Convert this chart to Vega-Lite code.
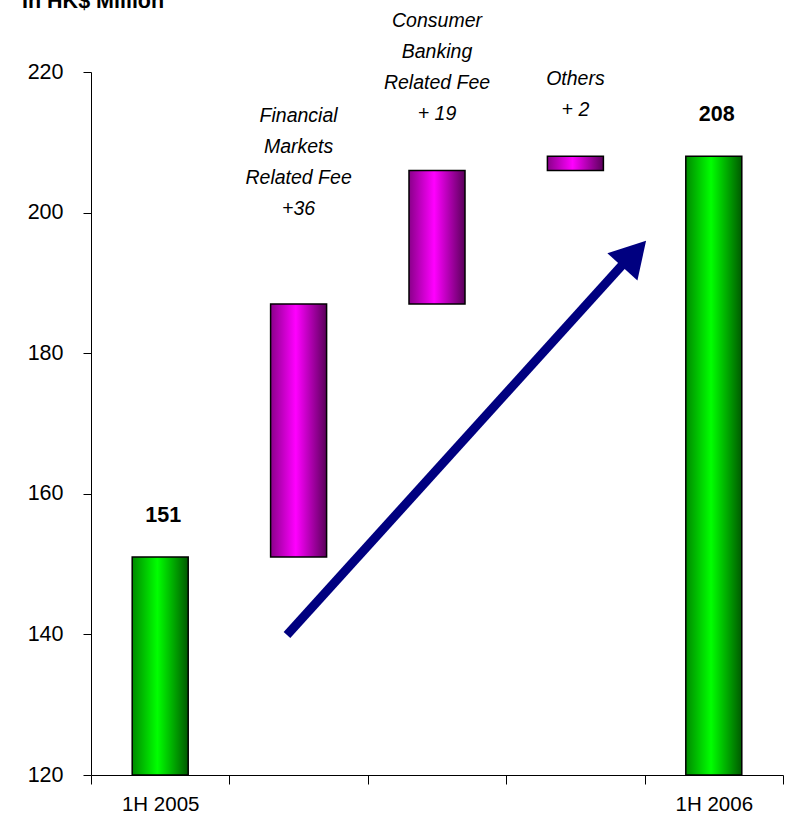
{
  "$schema": "https://vega.github.io/schema/vega-lite/v6.json",
  "autosize": "none",
  "width": 692,
  "height": 703,
  "padding": {"left": 91, "top": 72, "right": 4, "bottom": 41},
  "background": "white",
  "config": {
    "view": {"stroke": null},
    "axis": {"domainColor": "black", "tickColor": "black", "labelColor": "black", "grid": false}
  },
  "datasets": {
    "bars": [
      {"cat": "1H 2005", "slot": 0.5, "start": 120, "end": 151, "kind": "total"},
      {"cat": "Financial Markets Related Fee", "slot": 1.5, "start": 151, "end": 187, "kind": "change"},
      {"cat": "Consumer Banking Related Fee", "slot": 2.5, "start": 187, "end": 206, "kind": "change"},
      {"cat": "Others", "slot": 3.5, "start": 206, "end": 208, "kind": "change"},
      {"cat": "1H 2006", "slot": 4.5, "start": 120, "end": 208, "kind": "total"}
    ],
    "values": [
      {"slot": 0.5, "label": "151", "ly": 156.0},
      {"slot": 4.5, "label": "208", "ly": 213.1}
    ],
    "notes": [
      {"slot": 1.5, "label": "Financial\nMarkets\nRelated Fee\n+36", "ly": 212.9},
      {"slot": 2.5, "label": "Consumer\nBanking\nRelated Fee\n+ 19", "ly": 226.4},
      {"slot": 3.5, "label": "Others\n+ 2", "ly": 218.15}
    ],
    "title": [
      {"slot": -0.4986, "label": "In HK$ Million", "ly": 229.1}
    ],
    "arrow": [
      {"x0": 1.416, "y0": 139.9, "x1": 3.858, "y1": 192.97, "hx": 3.925, "hy": 194.13}
    ]
  },
  "encoding": {
    "x": {
      "type": "quantitative",
      "scale": {"domain": [0, 5], "nice": false, "zero": false, "padding": 0},
      "axis": {
        "title": null,
        "values": [0, 0.5, 1, 1.5, 2, 2.5, 3, 3.5, 4, 4.5, 5],
        "tickSize": 9,
        "tickOpacity": {"condition": {"test": "datum.value % 1 === 0", "value": 1}, "value": 0},
        "labelPadding": 10,
        "labelFont": "Liberation Sans",
        "labelFontSize": 20.5,
        "labelOverlap": false,
        "labelFlush": false,
        "labelBound": false,
        "labelExpr": "datum.value == 0.5 ? '1H 2005' : datum.value == 4.5 ? '1H 2006' : ''"
      }
    },
    "y": {
      "type": "quantitative",
      "scale": {"domain": [120, 220], "nice": false, "zero": false},
      "axis": {
        "title": null,
        "values": [120, 140, 160, 180, 200, 220],
        "tickSize": 8,
        "labelPadding": 20,
        "labelFont": "Liberation Sans",
        "labelFontSize": 21.5
      }
    }
  },
  "layer": [
    {
      "data": {"name": "bars"},
      "transform": [{"filter": "datum.kind == 'total'"}],
      "mark": {
        "type": "bar",
        "width": 56,
        "stroke": "black",
        "strokeWidth": 1.5,
        "fill": {"gradient": "linear", "x1": 0, "y1": 0, "x2": 1, "y2": 0,
          "stops": [
            {"offset": 0, "color": "#008a00"},
            {"offset": 0.45, "color": "#00ff00"},
            {"offset": 1, "color": "#005a00"}
          ]}
      },
      "encoding": {
        "x": {"field": "slot"},
        "y": {"field": "start"},
        "y2": {"field": "end"}
      }
    },
    {
      "data": {"name": "bars"},
      "transform": [{"filter": "datum.kind == 'change'"}],
      "mark": {
        "type": "bar",
        "width": 56,
        "stroke": "black",
        "strokeWidth": 1.5,
        "fill": {"gradient": "linear", "x1": 0, "y1": 0, "x2": 1, "y2": 0,
          "stops": [
            {"offset": 0, "color": "#8a008a"},
            {"offset": 0.45, "color": "#ff00ff"},
            {"offset": 1, "color": "#5a005a"}
          ]}
      },
      "encoding": {
        "x": {"field": "slot"},
        "y": {"field": "start"},
        "y2": {"field": "end"}
      }
    },
    {
      "data": {"name": "values"},
      "mark": {"type": "text", "font": "Liberation Sans", "fontSize": 21.5, "fontWeight": "bold", "baseline": "alphabetic", "align": "center", "dx": 3, "color": "black"},
      "encoding": {
        "x": {"field": "slot"},
        "y": {"field": "ly"},
        "text": {"field": "label"}
      }
    },
    {
      "data": {"name": "notes"},
      "mark": {"type": "text", "font": "Liberation Sans", "fontSize": 19.5, "fontStyle": "italic", "baseline": "alphabetic", "align": "center", "lineBreak": "\n", "lineHeight": 31, "color": "black"},
      "encoding": {
        "x": {"field": "slot"},
        "y": {"field": "ly"},
        "text": {"field": "label"}
      }
    },
    {
      "data": {"name": "title"},
      "mark": {"type": "text", "font": "Liberation Sans", "fontSize": 21.5, "fontWeight": "bold", "baseline": "alphabetic", "align": "left", "color": "black"},
      "encoding": {
        "x": {"field": "slot"},
        "y": {"field": "ly"},
        "text": {"field": "label"}
      }
    },
    {
      "data": {"name": "arrow"},
      "mark": {"type": "rule", "color": "#000080", "strokeWidth": 9, "strokeCap": "butt"},
      "encoding": {
        "x": {"field": "x0"},
        "y": {"field": "y0"},
        "x2": {"field": "x1"},
        "y2": {"field": "y1"}
      }
    },
    {
      "data": {"name": "arrow"},
      "mark": {"type": "point", "shape": "triangle-up", "size": 1650, "angle": 42.3, "filled": true, "color": "#000080", "opacity": 1},
      "encoding": {
        "x": {"field": "hx"},
        "y": {"field": "hy"}
      }
    }
  ]
}
